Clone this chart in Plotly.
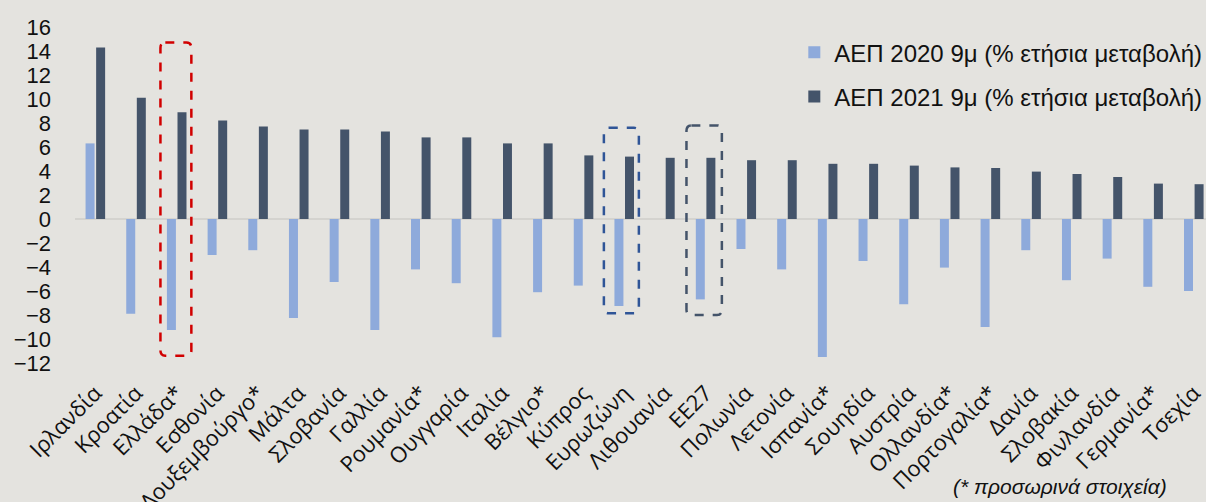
import plotly.graph_objects as go

categories = ["Ιρλανδία", "Κροατία", "Ελλάδα*", "Εσθονία", "Λουξεμβούργο*", "Μάλτα",
              "Σλοβανία", "Γαλλία", "Ρουμανία*", "Ουγγαρία", "Ιταλία", "Βέλγιο*",
              "Κύπρος", "Ευρωζώνη", "Λιθουανία", "ΕΕ27", "Πολωνία", "Λετονία",
              "Ισπανία*", "Σουηδία", "Αυστρία", "Ολλανδία*", "Πορτογαλία*", "Δανία",
              "Σλοβακία", "Φινλανδία", "Γερμανία*", "Τσεχία"]

gdp_2020 = [6.3, -7.9, -9.25, -3.0, -2.6, -8.25, -5.25, -9.25, -4.2, -5.35, -9.85, -6.1,
            -5.55, -7.25, 0.0, -6.7, -2.5, -4.2, -11.5, -3.5, -7.1, -4.05, -9.0, -2.6,
            -5.1, -3.3, -5.65, -6.0]

gdp_2021 = [14.3, 10.1, 8.9, 8.2, 7.7, 7.45, 7.45, 7.3, 6.8, 6.8, 6.3, 6.3,
            5.3, 5.2, 5.1, 5.1, 4.9, 4.9, 4.6, 4.6, 4.45, 4.3, 4.25, 3.95,
            3.75, 3.5, 2.95, 2.9]

name_2020 = "ΑΕΠ 2020 9μ (% ετήσια μεταβολή)"
name_2021 = "ΑΕΠ 2021 9μ (% ετήσια μεταβολή)"
y_ticks = list(range(-12, 17, 2))

BG = "#e4e3df"
LIGHT = "#8eaadb"
DARK = "#44546a"

fig = go.Figure()
fig.add_trace(go.Bar(x=categories, y=gdp_2020, name=name_2020, marker_color=LIGHT,
                     marker_line_width=0, legendgroup="a"))
fig.add_trace(go.Bar(x=categories, y=gdp_2021, name=name_2021, marker_color=DARK,
                     marker_line_width=0, legendgroup="b"))

def rounded_rect(x0, x1, y0, y1, rx, ry):
    return (f"M {x0+rx},{y1} L {x1-rx},{y1} Q {x1},{y1} {x1},{y1-ry} "
            f"L {x1},{y0+ry} Q {x1},{y0} {x1-rx},{y0} "
            f"L {x0+rx},{y0} Q {x0},{y0} {x0},{y0+ry} "
            f"L {x0},{y1-ry} Q {x0},{y1} {x0+rx},{y1} Z")

boxes = [
    (1.6, 2.36, -11.4, 14.7, "#d10000"),
    (12.5, 13.36, -7.85, 7.6, "#2f5597"),
    (14.53, 15.4, -8.0, 7.8, "#44546a"),
]
for x0, x1, y0, y1, col in boxes:
    fig.add_shape(type="path", xref="x", yref="y",
                  path=rounded_rect(x0, x1, y0, y1, 0.12, 0.45),
                  line=dict(color=col, width=2.5, dash="dash"),
                  fillcolor="rgba(0,0,0,0)", layer="above")

fig.add_annotation(text="<i>(* προσωρινά στοιχεία)</i>", xref="paper", yref="paper",
                   x=1, y=-0.311, xanchor="right", yanchor="middle", xshift=-37,
                   showarrow=False,
                   font=dict(family="Liberation Sans, Arial", size=21, color="#111111"))

fig.update_layout(
    width=1206, height=502,
    margin=dict(l=75, r=0, t=15, b=127, autoexpand=False),
    paper_bgcolor=BG, plot_bgcolor=BG,
    barmode="group", bargap=0.48, bargroupgap=0.15,
    showlegend=True,
    legend=dict(x=0.636, y=0.958, xanchor="left", yanchor="top",
                bgcolor="rgba(0,0,0,0)", tracegroupgap=10,
                font=dict(family="Liberation Sans, Arial", size=24, color="#111111")),
    font=dict(family="Liberation Sans, Arial", color="#111111"),
)
fig.update_xaxes(range=[-0.5, 27.3], tickangle=-45, showgrid=False, showline=False,
                 automargin=False,
                 ticks="", tickfont=dict(family="Open Sans", size=22, color="#111111"))
fig.update_yaxes(range=[-13, 17], tickvals=y_ticks, showgrid=False, zeroline=True,
                 zerolinecolor="#d4d3cf", zerolinewidth=2, ticks="", automargin=False,
                 ticklabelstandoff=23,
                 tickfont=dict(family="Liberation Sans, Arial", size=22, color="#111111"))

fig.write_html("out.html")
